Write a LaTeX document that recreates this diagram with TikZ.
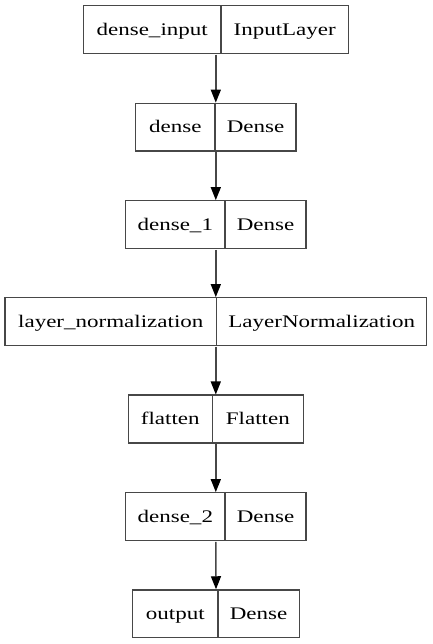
\documentclass[tikz,border=0pt]{standalone}
\usepackage{fontspec}
\setmainfont[FakeStretch=1.3]{Liberation Serif}
\usetikzlibrary{arrows.meta}
\begin{document}
\begin{tikzpicture}[x=1pt,y=-1pt,
  box/.style={draw=black!72, line width=1.3pt, minimum height=47.8pt, inner sep=0pt},
  lbl/.style={inner sep=0pt, anchor=base, font=\fontsize{17.7pt}{20pt}\selectfont},
  arr/.style={draw=black!72, line width=1.4pt, -{Triangle[length=13pt,width=10pt,black]}, shorten <=0.65pt}]
\useasboundingbox (0,0) rectangle (432,644);
% box 1
\node[box, minimum width=265pt] (b1) at (215.8,29.5) {};
\draw[black!72, line width=1.3pt] (221,5.7) -- (221,53.3);
\node[lbl] (l1) at (152.2,35.2) {dense\_input};
\node[lbl] (r1) at (284.7,35.2) {InputLayer};
% box 2
\node[box, minimum width=160.3pt] (b2) at (215.8,127.2) {};
\draw[black!72, line width=1.3pt] (215,103.3) -- (215,151.1);
\node[lbl] (l2) at (175.3,132.9) {dense};
\node[lbl] (r2) at (255.5,132.9) {Dense};
% box 3
\node[box, minimum width=180.3pt] (b3) at (215.8,224.7) {};
\draw[black!72, line width=1.3pt] (225,200.8) -- (225,248.6);
\node[lbl] (l3) at (175.3,230.4) {dense\_1};
\node[lbl] (r3) at (265.5,230.4) {Dense};
% box 4
\node[box, minimum width=421.7pt] (b4) at (215.8,321.7) {};
\draw[black!72, line width=1.3pt] (216.7,297.8) -- (216.7,345.6);
\node[lbl] (l4) at (110.8,327.4) {layer\_normalization};
\node[lbl] (r4) at (321.7,327.4) {LayerNormalization};
% box 5
\node[box, minimum width=175pt] (b5) at (215.8,419) {};
\draw[black!72, line width=1.3pt] (212.3,395.1) -- (212.3,442.9);
\node[lbl] (l5) at (170.3,424.7) {flatten};
\node[lbl] (r5) at (257.8,424.7) {Flatten};
% box 6
\node[box, minimum width=180.3pt] (b6) at (215.8,516.7) {};
\draw[black!72, line width=1.3pt] (225,492.8) -- (225,540.6);
\node[lbl] (l6) at (175.3,522.4) {dense\_2};
\node[lbl] (r6) at (265.5,522.4) {Dense};
% box 7
\node[box, minimum width=166.6pt] (b7) at (216,613.8) {};
\draw[black!72, line width=1.3pt] (218,589.9) -- (218,637.7);
\node[lbl] (l7) at (175.3,619.5) {output};
\node[lbl] (r7) at (258.6,619.5) {Dense};
% arrows
\draw[arr] (b1.south) -- (b2.north);
\draw[arr] (b2.south) -- (b3.north);
\draw[arr] (b3.south) -- (b4.north);
\draw[arr] (b4.south) -- (b5.north);
\draw[arr] (b5.south) -- (b6.north);
\draw[arr] (b6.south) -- (b7.north);
\end{tikzpicture}
\end{document}
